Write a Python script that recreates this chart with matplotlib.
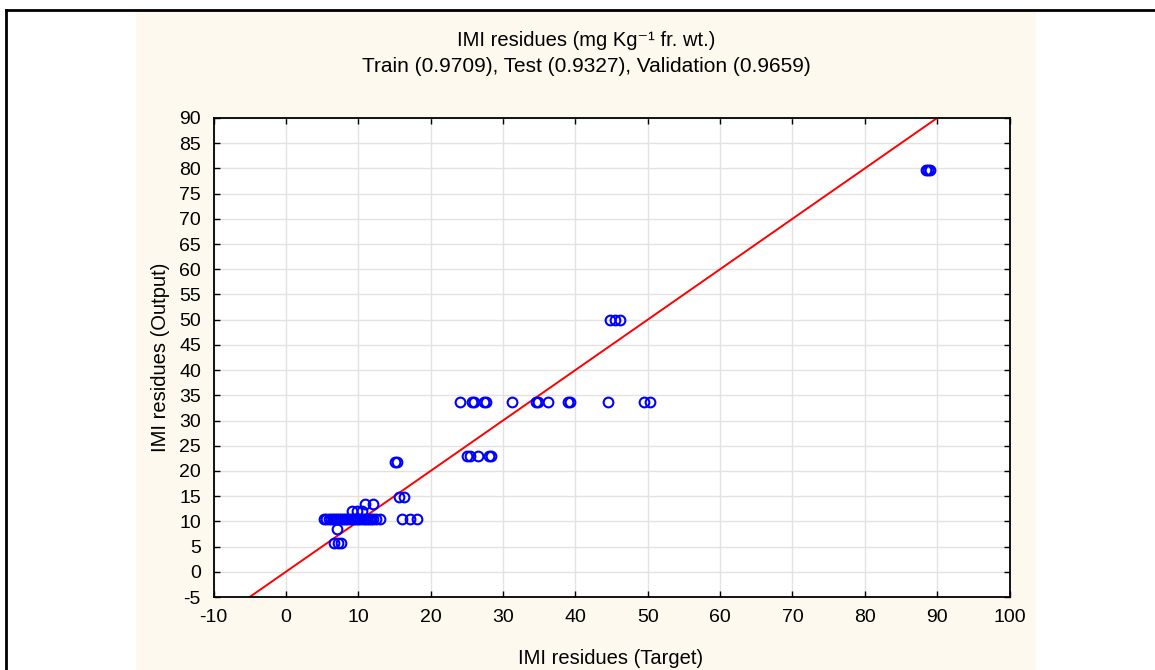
#!/usr/bin/env python3
"""IMI residues: network output vs target scatter"""

import matplotlib.pyplot as plt
from matplotlib.patches import Rectangle
from matplotlib.lines import Line2D
import numpy as np

plt.rcParams['font.family'] = ['Liberation Sans', 'DejaVu Sans']
plt.rcParams['font.size'] = 14
plt.rcParams['axes.unicode_minus'] = False

# Target values (x) and network output (y)
target = [
    # cluster around 10.5
    5.3, 5.6, 5.9, 6.2, 6.5, 6.8, 7.0, 7.3, 7.6, 7.9, 8.2, 8.5, 8.8,
    9.1, 9.4, 9.7, 10.0, 10.3, 10.6, 10.9, 11.2, 11.5, 11.8, 12.1, 12.5, 13.0,
    16.0, 17.1, 18.1,
    9.1, 9.8, 10.5,
    10.9, 12.0,
    7.1,
    6.7, 7.2, 7.6,
    15.6, 16.3,
    15.1, 15.3,
    25.1, 25.5, 26.6, 28.1, 28.3,
    24.1, 25.7, 26.0, 27.4, 27.7, 31.3, 34.6, 34.9, 36.2, 39.0, 39.3,
    44.5, 49.5, 50.3,
    44.8, 45.5, 46.2,
    88.4, 88.7, 89.0,
]
output = [
    10.5, 10.5, 10.5, 10.5, 10.5, 10.5, 10.5, 10.5, 10.5, 10.5, 10.5, 10.5, 10.5,
    10.5, 10.5, 10.5, 10.5, 10.5, 10.5, 10.5, 10.5, 10.5, 10.5, 10.5, 10.5, 10.5,
    10.5, 10.5, 10.5,
    12.0, 12.0, 12.0,
    13.4, 13.4,
    8.4,
    5.8, 5.8, 5.8,
    14.8, 14.8,
    21.8, 21.8,
    23.0, 23.0, 23.0, 23.0, 23.0,
    33.6, 33.6, 33.6, 33.6, 33.6, 33.6, 33.6, 33.6, 33.6, 33.6, 33.6,
    33.6, 33.6, 33.6,
    50.0, 50.0, 50.0,
    79.6, 79.6, 79.6,
]

xticks = np.arange(-10, 101, 10)
yticks = np.arange(-5, 91, 5)

W, H = 1155, 670
fig = plt.figure(figsize=(W / 100, H / 100), dpi=100, facecolor='white')

# beige panel and the black frame edges
fig.patches.append(Rectangle((136 / W, 0), 900 / W, (H - 11) / H,
                             transform=fig.transFigure, facecolor='#fdf9ee',
                             edgecolor='none', zorder=-5))
fig.lines.append(Line2D([6 / W, 1], [1 - 10 / H, 1 - 10 / H], transform=fig.transFigure,
                        color='black', linewidth=2))
fig.lines.append(Line2D([6 / W, 6 / W], [0, 1 - 10 / H], transform=fig.transFigure,
                        color='black', linewidth=2))

ax = fig.add_axes([213.5 / W, (H - 597) / H, 796 / W, 479 / H])
ax.set_zorder(2)
ax.set_facecolor('white')

ax.plot(target, output, 'o', markerfacecolor='none', markeredgecolor='#0000ff',
        markersize=7, markeredgewidth=1.5, zorder=3)

ref = np.array([-10, 100])
ax.plot(ref, ref, color='#ff0000', linewidth=1.4, zorder=2)

ax.set_xlim(-10, 100)
ax.set_ylim(-5, 90)
ax.set_xticks(xticks)
ax.set_yticks(yticks)
ax.grid(True, color='#e2e2e2', linewidth=1.0)
ax.set_axisbelow(True)
ax.tick_params(direction='in', length=4, width=1, top=True, right=True,
               labeltop=False, labelright=False)
ax.tick_params(axis='x', pad=9)
ax.tick_params(axis='y', pad=9)
for s in ax.spines.values():
    s.set_linewidth(1.3)

fig.text(586 / W, 1 - 40 / H, 'IMI residues (mg Kg\u207b\u00b9 fr. wt.)',
         ha='center', va='center', fontsize=14.5)
fig.text(586 / W, 1 - 66 / H, 'Train (0.9709), Test (0.9327), Validation (0.9659)',
         ha='center', va='center', fontsize=15)
fig.text(611 / W, 1 - 658 / H, 'IMI residues (Target)', ha='center', va='center',
         fontsize=14.5)
fig.text(160 / W, 1 - 357 / H, 'IMI residues (Output)', ha='center', va='center',
         rotation=90, fontsize=14.5)

plt.savefig('out.png', dpi=100, facecolor='white')
plt.close()
